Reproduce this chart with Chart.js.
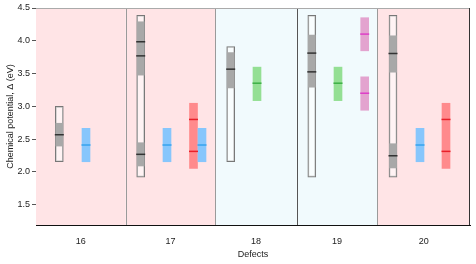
<!DOCTYPE html>
<html>
<head>
<meta charset="utf-8">
<script src="https://cdn.jsdelivr.net/npm/chart.js@4.4.0/dist/chart.umd.min.js"></script>
<style>
  html, body { margin: 0; padding: 0; background: #fff; }
  #c { display: block; }
</style>
</head>
<body>
<canvas id="c" width="476" height="264"></canvas>
<script>
// categories (defects) and the x-extent of each facet (x units along the axis)
var defects = ['16', '17', '18', '19', '20'];
var facetEdges = [0, 89.7, 179.3, 260.7, 341.3, 434];
var yTicks = [1.5, 2.0, 2.5, 3.0, 3.5, 4.0, 4.5];

// open boxes (full range)
var boxX = [23.3, 104.7, 194.7, 275.8, 357];
var boxLo = [2.155, 1.92, 2.155, 1.92, 1.92];
var boxHi = [3.0, 4.39, 3.913, 4.39, 4.39];

// grey sub-ranges inside the boxes
var greyX = [23.3, 104.7, 104.7, 194.7, 275.8, 357, 357];
var greyLo = [2.394, 3.476, 2.09, 3.281, 3.292, 3.521, 2.06];
var greyHi = [2.742, 4.29, 2.445, 3.82, 4.087, 4.076, 2.43];

// dark marks inside the boxes
var markX = [23.3, 104.7, 104.7, 104.7, 194.7, 275.8, 275.8, 357, 357];
var markY = [2.567, 3.985, 3.77, 2.268, 3.567, 3.812, 3.526, 3.806, 2.246];

// blue ranges
var blueX = [50, 131, 166, 384];
var blueLo = [2.155, 2.155, 2.155, 2.155];
var blueHi = [2.665, 2.665, 2.665, 2.665];
var blueMid = [2.41, 2.41, 2.41, 2.41];

// red ranges (two marks each)
var redX = [157.5, 410];
var redLo = [2.053, 2.053];
var redHi = [3.047, 3.047];
var redMarkX = [157.5, 157.5, 410, 410];
var redMarkY = [2.80, 2.313, 2.80, 2.313];

// green ranges
var greenX = [221, 302];
var greenLo = [3.087, 3.087];
var greenHi = [3.598, 3.598];
var greenMid = [3.353, 3.353];

// pink ranges
var pinkX = [328.7, 328.7];
var pinkLo = [3.847, 2.94];
var pinkHi = [4.352, 3.45];
var pinkMid = [4.102, 3.2];

function ranges(xs, lo, hi) {
	return xs.map(function (x, i) { return { x: x, y: [lo[i], hi[i]] }; });
}
function pts(xs, ys) {
	return xs.map(function (x, i) { return { x: x, y: ys[i] }; });
}

var facetBg = ['#ffe4e6', '#ffe4e6', '#f1fafd', '#f1fafd', '#ffe4e6'];
var facetLine = ['#9a9a9a', '#9a9a9a', '#555555', '#9a9a9a'];

// facet backgrounds + separators + frame
var facets = {
	id: 'facets',
	beforeDatasetsDraw: function (chart) {
		var ctx = chart.ctx, xs = chart.scales.x, a = chart.chartArea;
		ctx.save();
		for (var i = 0; i < defects.length; i++) {
			var x0 = xs.getPixelForValue(facetEdges[i]);
			var x1 = xs.getPixelForValue(facetEdges[i + 1]);
			ctx.fillStyle = facetBg[i];
			ctx.fillRect(x0, a.top, x1 - x0, a.bottom - a.top);
		}
		ctx.lineWidth = 1;
		for (var j = 1; j < defects.length; j++) {
			var px = Math.round(xs.getPixelForValue(facetEdges[j])) + 0.5;
			ctx.strokeStyle = facetLine[j - 1];
			ctx.beginPath();
			ctx.moveTo(px, a.top);
			ctx.lineTo(px, a.bottom);
			ctx.stroke();
		}
		ctx.strokeStyle = '#aaaaaa';
		ctx.beginPath();
		ctx.moveTo(a.left, a.top + 0.5);
		ctx.lineTo(a.right, a.top + 0.5);
		ctx.stroke();
		ctx.strokeStyle = '#333333';
		ctx.beginPath();
		ctx.moveTo(a.right - 0.5, a.top);
		ctx.lineTo(a.right - 0.5, a.bottom);
		ctx.stroke();
		ctx.restore();
	}
};

function barSet(data, fill, border, thick, order) {
	return {
		type: 'bar', data: data, backgroundColor: fill,
		borderColor: border || 'transparent', borderWidth: border ? 1 : 0,
		borderSkipped: false, barThickness: thick, grouped: false, order: order
	};
}
function markSet(data, color, order) {
	return {
		type: 'line', data: data, showLine: false, pointStyle: 'line',
		pointRadius: 4.5, pointHoverRadius: 4.5, borderColor: color,
		pointBorderWidth: 1.5, order: order
	};
}

Chart.defaults.font.family = '"Liberation Sans", Arial, sans-serif';
Chart.defaults.color = '#222';

new Chart(document.getElementById('c'), {
	type: 'bar',
	data: {
		datasets: [
			markSet(pts(markX, markY), '#333333', 1),
			markSet(pts(blueX, blueMid), '#36a2ee', 1),
			markSet(pts(redMarkX, redMarkY), '#e8202a', 1),
			markSet(pts(greenX, greenMid), '#3caf45', 1),
			markSet(pts(pinkX, pinkMid), '#dd3fc8', 1),
			barSet(ranges(blueX, blueLo, blueHi), '#87c6fc', null, 8, 3),
			barSet(ranges(redX, redLo, redHi), '#ff8a8c', null, 8, 3),
			barSet(ranges(greenX, greenLo, greenHi), '#94df94', null, 8, 3),
			barSet(ranges(pinkX, pinkLo, pinkHi), '#e3a3cf', null, 8, 3),
			barSet(ranges(greyX, greyLo, greyHi), '#a8a8a8', null, 7, 4),
			barSet(ranges(boxX, boxLo, boxHi), 'rgba(255,255,255,0.55)', '#777777', 8, 5)
		]
	},
	options: {
		responsive: false,
		animation: false,
		events: [],
		layout: { padding: { top: 8, right: 6, left: 0, bottom: 0 } },
		plugins: { legend: { display: false }, tooltip: { enabled: false } },
		scales: {
			x: {
				type: 'linear', min: facetEdges[0], max: facetEdges[facetEdges.length - 1],
				offset: false,
				grid: { display: false },
				border: { display: true, color: '#111', width: 1 },
				afterBuildTicks: function (s) {
					s.ticks = defects.map(function (d, i) {
						return { value: (facetEdges[i] + facetEdges[i + 1]) / 2 };
					});
				},
				afterFit: function (s) { s.height = 39; },
				ticks: {
					autoSkip: false, maxRotation: 0, padding: 3,
					font: { size: 9 }, color: '#222',
					callback: function (v, i) { return defects[i]; }
				},
				title: { display: true, text: 'Defects', font: { size: 9 }, color: '#222', padding: { top: 2, bottom: 4 } }
			},
			y: {
				min: 1.19, max: 4.5,
				grid: { drawOnChartArea: false, tickLength: 4, color: '#555' },
				border: { display: true, color: '#111', width: 1 },
				afterBuildTicks: function (s) {
					s.ticks = yTicks.map(function (v) { return { value: v }; });
				},
				afterFit: function (s) { s.width = 36; },
				ticks: {
					padding: 2, font: { size: 9 }, color: '#222',
					callback: function (v) { return v.toFixed(1); }
				},
				title: { display: true, text: 'Chemical potential, \u0394 (eV)', font: { size: 9 }, color: '#222', padding: { top: 5, bottom: 0 } }
			}
		}
	},
	plugins: [facets]
});
</script>
</body>
</html>
